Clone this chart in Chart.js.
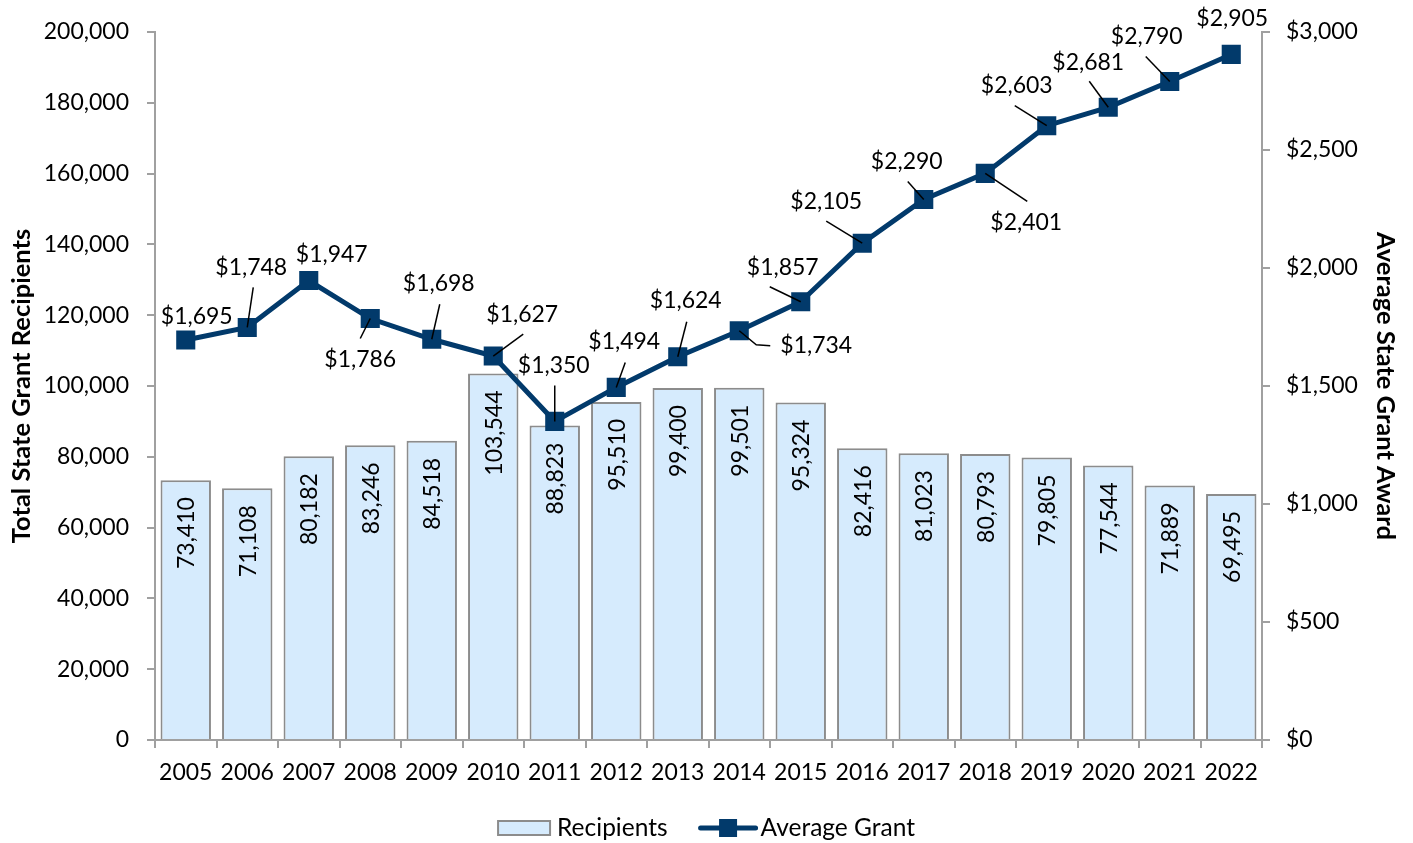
<!DOCTYPE html>
<html>
<head>
<meta charset="utf-8">
<script src="https://cdn.jsdelivr.net/npm/chart.js@4.4.1/dist/chart.umd.min.js"></script>
<style>
  body { margin: 0; background: #fff; }
  #wrap { width: 1413px; height: 843px; }
</style>
</head>
<body>
<div id="wrap"><canvas id="chart" width="1413" height="843"></canvas></div>
<script>
const years = ['2005', '2006', '2007', '2008', '2009', '2010', '2011', '2012', '2013',
  '2014', '2015', '2016', '2017', '2018', '2019', '2020', '2021', '2022'];
const recipients = [73410, 71108, 80182, 83246, 84518, 103544, 88823, 95510, 99400,
  99501, 95324, 82416, 81023, 80793, 79805, 77544, 71889, 69495];
const avgGrant = [1695, 1748, 1947, 1786, 1698, 1627, 1350, 1494, 1624,
  1734, 1857, 2105, 2290, 2401, 2603, 2681, 2790, 2905];

const FONT = 'Lato';
const NAVY = '#023a6b';
const BAR_FILL = '#d6ebfd';
const BAR_EDGE = '#8c8c8c';
const AXIS = '#a0a0a0';

// where each grant label sits relative to its marker (px), plus leader line bends
const grantLabelPos = [
  { dx: 11, dy: -23 },
  { dx: 4, dy: -60, lead: [[6, -40]] },
  { dx: 23, dy: -26 },
  { dx: -10, dy: 41, lead: [[-10, 20]] },
  { dx: 7, dy: -56, lead: [[8, -35]] },
  { dx: 29, dy: -41, lead: [[30, -22]] },
  { dx: -1, dy: -56, lead: [[0, -36]] },
  { dx: 8, dy: -46, lead: [[9, -25]] },
  { dx: 8, dy: -56, lead: [[9, -35]] },
  { dx: 77, dy: 15, lead: [[17, 14], [31, 15]] },
  { dx: -18, dy: -34, lead: [[-31, -15]] },
  { dx: -36, dy: -42, lead: [[-36, -22]] },
  { dx: -17, dy: -38, lead: [[-16, -18]] },
  { dx: 41, dy: 49, lead: [[42, 28]] },
  { dx: -30, dy: -40, lead: [[-32, -20]] },
  { dx: -20, dy: -45, lead: [[-19, -26]] },
  { dx: -23, dy: -45, lead: [[-24, -25]] },
  { dx: 1, dy: -36 }
];

const fmt = v => v.toLocaleString('en-US');

const labelsPlugin = {
  id: 'valueLabels',
  afterDatasetsDraw(chart) {
    const ctx = chart.ctx;
    ctx.save();
    ctx.font = '23px ' + FONT;
    ctx.fillStyle = '#000';

    // recipients, rotated inside each bar
    chart.getDatasetMeta(0).data.forEach((bar, i) => {
      ctx.save();
      ctx.translate(bar.x + 1, bar.y + 17);
      ctx.rotate(-Math.PI / 2);
      ctx.textAlign = 'right';
      ctx.textBaseline = 'middle';
      ctx.fillText(fmt(recipients[i]), 0, 0);
      ctx.restore();
    });

    // grant labels with leader lines
    chart.getDatasetMeta(1).data.forEach((pt, i) => {
      const p = grantLabelPos[i];
      if (p.lead) {
        ctx.beginPath();
        ctx.moveTo(pt.x, pt.y);
        p.lead.forEach(l => ctx.lineTo(pt.x + l[0], pt.y + l[1]));
        ctx.strokeStyle = '#000';
        ctx.lineWidth = 1.5;
        ctx.stroke();
      }
      ctx.textAlign = 'center';
      ctx.textBaseline = 'middle';
      ctx.fillText('$' + fmt(avgGrant[i]), pt.x + p.dx, pt.y + p.dy);
    });
    ctx.restore();
  },
  afterDraw(chart) {
    // legend drawn by hand so the line entry shows line + marker
    const ctx = chart.ctx;
    ctx.save();
    ctx.font = '24.5px ' + FONT;
    ctx.textBaseline = 'middle';
    const t1 = 'Recipients', t2 = 'Average Grant';
    const w1 = ctx.measureText(t1).width, w2 = ctx.measureText(t2).width;
    const total = 52 + 7 + w1 + 33 + 55 + 5 + w2;
    let x = chart.width / 2 - total / 2;
    const y = 828;
    ctx.fillStyle = BAR_FILL;
    ctx.fillRect(x, y - 7, 52, 14);
    ctx.strokeStyle = BAR_EDGE;
    ctx.lineWidth = 2;
    ctx.strokeRect(x, y - 7, 52, 14);
    x += 59;
    ctx.fillStyle = '#000';
    ctx.fillText(t1, x, y);
    x += w1 + 33;
    ctx.beginPath();
    ctx.moveTo(x, y);
    ctx.lineTo(x + 55, y);
    ctx.strokeStyle = NAVY;
    ctx.lineWidth = 5;
    ctx.lineCap = 'round';
    ctx.stroke();
    ctx.fillStyle = NAVY;
    ctx.fillRect(x + 27.5 - 9, y - 9, 18, 18);
    x += 60;
    ctx.fillStyle = '#000';
    ctx.fillText(t2, x, y);
    ctx.restore();
  }
};

const tickFont = { family: FONT, size: 23 };
const titleFont = { family: FONT, size: 25.5, weight: 'bold' };

new Chart(document.getElementById('chart'), {
  type: 'bar',
  data: {
    labels: years,
    datasets: [
      {
        type: 'bar',
        label: 'Recipients',
        data: recipients,
        yAxisID: 'y',
        backgroundColor: BAR_FILL,
        borderColor: BAR_EDGE,
        borderWidth: 2,
        barPercentage: 0.82,
        categoryPercentage: 1,
        order: 1
      },
      {
        type: 'line',
        label: 'Average Grant',
        data: avgGrant,
        yAxisID: 'y1',
        borderColor: NAVY,
        borderWidth: 5,
        pointStyle: 'rect',
        pointRadius: 13.5,
        pointBackgroundColor: NAVY,
        pointBorderWidth: 0,
        tension: 0,
        order: 0
      }
    ]
  },
  options: {
    responsive: false,
    animation: false,
    layout: { padding: { top: 32, left: 0, right: 0, bottom: 0 } },
    plugins: {
      legend: { display: false },
      tooltip: { enabled: false }
    },
    scales: {
      x: {
        offset: true,
        grid: { offset: true, drawOnChartArea: false, tickLength: 8, color: AXIS, lineWidth: 2 },
        border: { color: AXIS, width: 2 },
        ticks: { font: tickFont, color: '#000', padding: 11, maxRotation: 0, autoSkip: false },
        afterFit(s) { s.height = 103; }
      },
      y: {
        position: 'left',
        min: 0,
        max: 200000,
        grid: { drawOnChartArea: false, tickLength: 8, color: AXIS, lineWidth: 2 },
        border: { color: AXIS, width: 2 },
        ticks: { stepSize: 20000, font: tickFont, color: '#000', padding: 18, callback: v => fmt(v) },
        title: {
          display: true,
          text: 'Total State Grant Recipients',
          font: titleFont,
          color: '#000',
          padding: { top: 6, bottom: 0 }
        },
        afterFit(s) { s.width = 155; }
      },
      y1: {
        position: 'right',
        min: 0,
        max: 3000,
        grid: { drawOnChartArea: false, tickLength: 8, color: AXIS, lineWidth: 2 },
        border: { color: AXIS, width: 2 },
        ticks: { stepSize: 500, font: tickFont, color: '#000', padding: 16, callback: v => '$' + fmt(v) },
        title: {
          display: true,
          text: 'Average State Grant Award',
          font: titleFont,
          color: '#000',
          padding: { top: 12, bottom: 0 }
        },
        afterFit(s) { s.width = 151; }
      }
    }
  },
  plugins: [labelsPlugin]
});
</script>
</body>
</html>
